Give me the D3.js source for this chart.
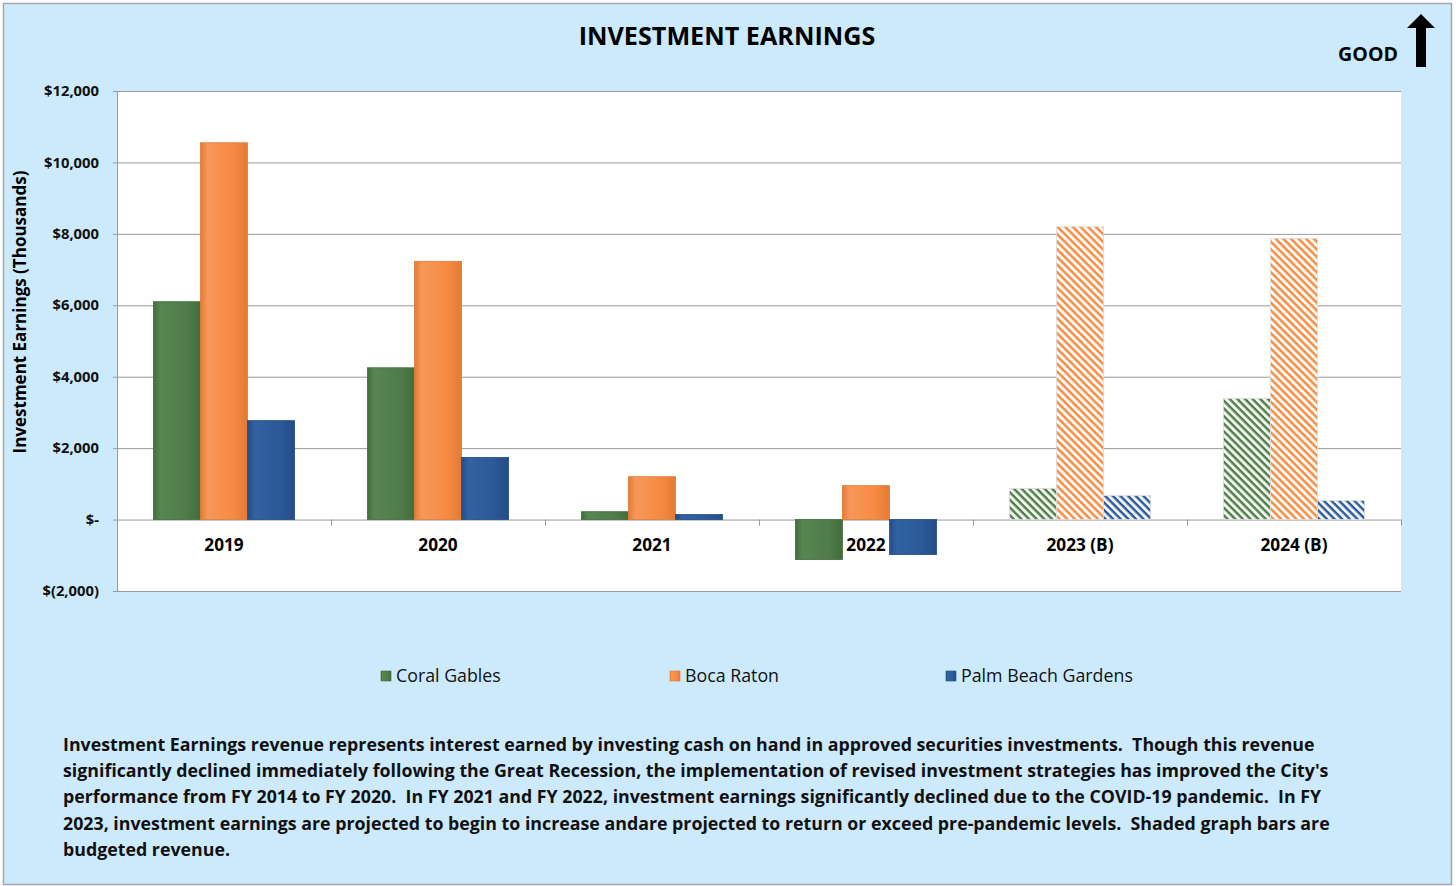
<!DOCTYPE html>
<html>
<head>
<meta charset="utf-8">
<script src="https://cdn.jsdelivr.net/npm/d3@7/dist/d3.min.js"></script>
<style>
  body { margin: 0; background: #fff; }
  text { font-family: "Open Sans", "Noto Sans", sans-serif; white-space: pre; }
</style>
</head>
<body>
<svg id="chart" width="1456" height="886"></svg>
<script>
// chart data
var years = ["2019", "2020", "2021", "2022", "2023 (B)", "2024 (B)"];
var budgeted = [false, false, false, false, true, true];
var cities = ["Coral Gables", "Boca Raton", "Palm Beach Gardens"];
var coralGables = [6100, 4250, 220, -1120, 870, 3390];
var bocaRaton = [10550, 7230, 1200, 950, 8200, 7870];
var palmBeachGardens = [2770, 1740, 140, -980, 670, 530];
var yTicks = [-2000, 0, 2000, 4000, 6000, 8000, 10000, 12000];
var notes = [
  "Investment Earnings revenue represents interest earned by investing cash on hand in approved securities investments.  Though this revenue",
  "significantly declined immediately following the Great Recession, the implementation of revised investment strategies has improved the City's",
  "performance from FY 2014 to FY 2020.  In FY 2021 and FY 2022, investment earnings significantly declined due to the COVID-19 pandemic.  In FY",
  "2023, investment earnings are projected to begin to increase andare projected to return or exceed pre-pandemic levels.  Shaded graph bars are",
  "budgeted revenue."
];

var series = [coralGables, bocaRaton, palmBeachGardens];
var colors = ["#4f7c49", "#f68a42", "#2b5896"];
var darks = ["#426c3d", "#e27a35", "#224c86"];
var lights = ["#578651", "#f8975a", "#3262a3"];
var hatchBg = ["#f2f8f0", "#fffaf5", "#f3f6fb"];

var svg = d3.select("#chart");

// background panel
svg.append("rect")
  .attr("x", 3.5).attr("y", 3.5)
  .attr("width", 1448).attr("height", 881)
  .attr("fill", "#cdeafc")
  .attr("stroke", "#a6a6a6")
  .attr("stroke-width", 1.5);

var margin = {left: 117, top: 91, right: 1401, bottom: 591};

var x = d3.scaleBand().domain(years).range([margin.left, margin.right]);
var y = d3.scaleLinear().domain([-2000, 12000]).range([margin.bottom, margin.top]);

var defs = svg.append("defs");

// gradients for solid bars
colors.forEach(function(c, i) {
  var g = defs.append("linearGradient").attr("id", "grad" + i)
    .attr("x1", 0).attr("x2", 1).attr("y1", 0).attr("y2", 0);
  g.append("stop").attr("offset", "0%").attr("stop-color", darks[i]);
  g.append("stop").attr("offset", "15%").attr("stop-color", lights[i]);
  g.append("stop").attr("offset", "70%").attr("stop-color", c);
  g.append("stop").attr("offset", "100%").attr("stop-color", darks[i]);

  // hatch pattern for budget years
  var p = defs.append("pattern").attr("id", "hatch" + i)
    .attr("patternUnits", "userSpaceOnUse")
    .attr("width", 5.4).attr("height", 5.4)
    .attr("patternTransform", "rotate(45)");
  p.append("rect").attr("width", 5.4).attr("height", 5.4).attr("fill", hatchBg[i]);
  p.append("rect").attr("x", 0).attr("y", 0).attr("width", 5.4).attr("height", 2.4).attr("fill", c);
});

// plot area
svg.append("rect")
  .attr("x", margin.left).attr("y", margin.top)
  .attr("width", margin.right - margin.left)
  .attr("height", margin.bottom - margin.top)
  .attr("fill", "#fff");

// gridlines
svg.append("g").selectAll("line")
  .data(yTicks)
  .enter().append("line")
  .attr("x1", margin.left - 4).attr("x2", margin.right)
  .attr("y1", function(d) { return y(d) + 0.5; })
  .attr("y2", function(d) { return y(d) + 0.5; })
  .attr("stroke", "#9a9a9a")
  .attr("stroke-width", 1);

// y axis line
svg.append("line")
  .attr("x1", margin.left + 0.5).attr("x2", margin.left + 0.5)
  .attr("y1", margin.top).attr("y2", margin.bottom)
  .attr("stroke", "#9a9a9a");

// y labels
svg.append("g").selectAll("text")
  .data(yTicks)
  .enter().append("text")
  .attr("x", 99)
  .attr("y", function(d) { return y(d); })
  .attr("dy", "0.35em")
  .attr("text-anchor", "end")
  .attr("font-size", 14.8)
  .attr("font-weight", "bold")
  .attr("fill", "#111")
  .text(function(d) {
    if (d === 0) return "$-";
    if (d < 0) return "$(" + d3.format(",")(-d) + ")";
    return "$" + d3.format(",")(d);
  });

// x tick marks on zero line
var tickPos = years.map(function(d) { return x(d); }).concat([margin.right]);
svg.append("g").selectAll("line")
  .data(tickPos)
  .enter().append("line")
  .attr("x1", function(d) { return Math.round(d) + 0.5; })
  .attr("x2", function(d) { return Math.round(d) + 0.5; })
  .attr("y1", y(0)).attr("y2", y(0) + 6)
  .attr("stroke", "#9a9a9a");

// bars
var inner = d3.scaleBand().domain([0, 1, 2])
  .range([0, x.bandwidth() * 0.66]);
var offset = (x.bandwidth() - x.bandwidth() * 0.66) / 2;

series.forEach(function(vals, si) {
  var g = svg.append("g");
  g.selectAll("rect")
    .data(vals)
    .enter().append("rect")
    .attr("x", function(d, i) { return x(years[i]) + offset + inner(si); })
    .attr("y", function(d) { return y(Math.max(0, d)); })
    .attr("width", inner.bandwidth())
    .attr("height", function(d) { return Math.abs(y(d) - y(0)); })
    .attr("fill", function(d, i) { return budgeted[i] ? "url(#hatch" + si + ")" : "url(#grad" + si + ")"; })
    .attr("stroke", function(d, i) { return budgeted[i] ? "#dcdcdc" : darks[si]; })
    .attr("stroke-width", 0.8);
});

// category labels
svg.append("g").selectAll("text")
  .data(years)
  .enter().append("text")
  .attr("x", function(d) { return x(d) + x.bandwidth() / 2; })
  .attr("y", 551)
  .attr("text-anchor", "middle")
  .attr("font-size", 17.2)
  .attr("font-weight", "bold")
  .attr("fill", "#000")
  .text(function(d) { return d; });

// title
svg.append("text")
  .attr("x", 727).attr("y", 45)
  .attr("text-anchor", "middle")
  .attr("font-size", 25.2)
  .attr("font-weight", "bold")
  .text("INVESTMENT EARNINGS");

// GOOD marker
svg.append("text")
  .attr("x", 1398).attr("y", 61)
  .attr("text-anchor", "end")
  .attr("font-size", 19.6)
  .attr("font-weight", "bold")
  .text("GOOD");
svg.append("path")
  .attr("d", "M1421,14 L1435,28 L1426,28 L1426,67 L1416,67 L1416,28 L1407,28 Z")
  .attr("fill", "#000");

// y axis title
svg.append("text")
  .attr("transform", "translate(26,312) rotate(-90)")
  .attr("text-anchor", "middle")
  .attr("font-size", 17)
  .attr("font-weight", "bold")
  .text("Investment Earnings (Thousands)");

// legend
var legendX = [381, 670, 946];
var legend = svg.append("g").selectAll("g")
  .data(cities)
  .enter().append("g")
  .attr("transform", function(d, i) { return "translate(" + legendX[i] + ",676)"; });
legend.append("rect")
  .attr("x", 0).attr("y", -5)
  .attr("width", 10).attr("height", 10)
  .attr("fill", function(d, i) { return "url(#grad" + i + ")"; })
  .attr("stroke", function(d, i) { return darks[i]; })
  .attr("stroke-width", 0.6);
legend.append("text")
  .attr("x", 15).attr("y", 0)
  .attr("dy", "0.35em")
  .attr("font-size", 17.8)
  .attr("fill", "#111")
  .text(function(d) { return d; });

// notes
svg.append("g").selectAll("text")
  .data(notes)
  .enter().append("text")
  .attr("x", 63)
  .attr("y", function(d, i) { return 751 + i * 26.2; })
  .attr("font-size", 17.8)
  .attr("font-weight", "bold")
  .attr("fill", "#111")
  .text(function(d) { return d; });
</script>
</body>
</html>
